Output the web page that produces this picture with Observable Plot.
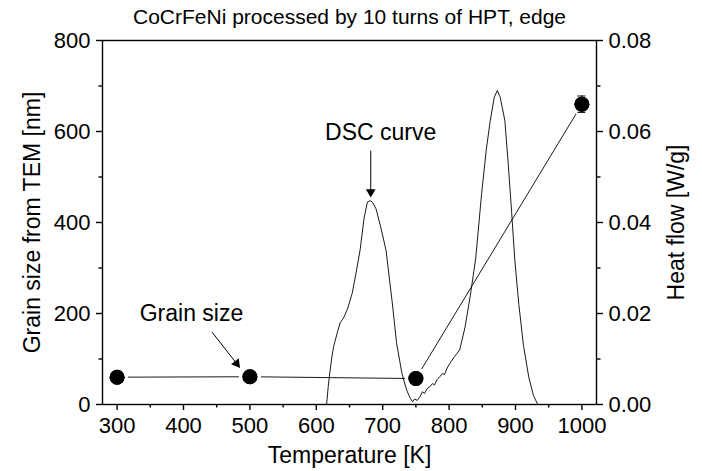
<!DOCTYPE html>
<html><head><meta charset="utf-8">
<script src="https://cdn.jsdelivr.net/npm/d3@7"></script>
<script src="https://cdn.jsdelivr.net/npm/@observablehq/plot@0.6"></script>
<style>
body{margin:0;background:#fff}
svg{font-family:"Liberation Sans",Arial,sans-serif}
</style>
</head><body><div id="chart"></div>
<script>
const title = "CoCrFeNi processed by 10 turns of HPT, edge";
const xLabel = "Temperature [K]";
const yLabel = "Grain size from TEM [nm]";
const y2Label = "Heat flow [W/g]";

// Grain size (left axis)
const temps = [300, 500, 750, 1000];
const grain = [60, 61, 57, 660];
const grainErr = [0, 0, 0, 18];

// DSC curve (right axis, W/g)
const dscT  = [615.5, 618, 620, 623, 626, 632, 636, 641, 647, 654, 660, 666, 672, 677, 681, 685, 690, 697, 705, 714, 721, 729, 736, 741, 745, 748, 752, 756, 760, 763, 767, 771, 775, 778, 782, 786, 790, 793, 797, 801, 808, 816, 824, 832, 840, 849, 856, 862, 868, 872.6, 877, 884, 889, 894, 899, 905, 912, 920, 927, 933.5];
const dscHF = [0.0, 0.004, 0.0065, 0.010, 0.0127, 0.016, 0.018, 0.019, 0.021, 0.0244, 0.029, 0.034, 0.041, 0.0445, 0.0448, 0.0444, 0.043, 0.039, 0.0339, 0.0229, 0.0134, 0.0068, 0.0032, 0.0015, 0.0006, 0.0012, 0.0009, 0.0017, 0.0028, 0.0024, 0.0035, 0.0039, 0.0046, 0.0043, 0.0055, 0.0061, 0.0068, 0.0066, 0.0080, 0.009, 0.0105, 0.012, 0.017, 0.024, 0.032, 0.0464, 0.056, 0.0624, 0.0675, 0.069, 0.0675, 0.0624, 0.053, 0.0427, 0.0317, 0.022, 0.013, 0.006, 0.002, 0.0];

// Ticks
const xTicks = [300, 400, 500, 600, 700, 800, 900, 1000];
const xMinor = [350, 450, 550, 650, 750, 850, 950];
const yTicks = [0, 200, 400, 600, 800];
const yMinor = [100, 300, 500, 700];
const hfTicks = [0, 0.02, 0.04, 0.06, 0.08];
const hfMinor = [0.01, 0.03, 0.05, 0.07];

// Annotations (text position, arrow start, arrow tip)
const noteText = ["DSC curve", "Grain size"];
const noteT = [697, 412];
const noteG = [598, 200];
const arrowT1 = [682, 443];
const arrowG1 = [558, 159];
const arrowT2 = [682, 480];
const arrowG2 = [467, 90];

const HF = 10000; // 0.08 W/g on right axis ↔ 800 nm on left axis
const W = 702, H = 471, mL = 102, mR = 106, mT = 40, mB = 67;
const xDomain = [278, 1022], yDomain = [0, 800];

const xs = Plot.scale({x: {domain: xDomain, range: [mL, W - mR]}});
const ys = Plot.scale({y: {domain: yDomain, range: [H - mB, mT]}});

const grainData = temps.map((T, i) => ({T, g: grain[i], e: grainErr[i]}));
const errData = grainData.filter(d => d.e > 0);
const dsc = dscT.map((T, i) => ({T, y: dscHF[i] * HF}));
const notes = noteText.map((text, i) => {
  const px = xs.apply(arrowT2[i]) - xs.apply(arrowT1[i]);
  const py = ys.apply(arrowG2[i]) - ys.apply(arrowG1[i]);
  return {text, T: noteT[i], g: noteG[i], T1: arrowT1[i], g1: arrowG1[i], T2: arrowT2[i], g2: arrowG2[i],
          angle: Math.atan2(px, -py) * 180 / Math.PI};
});

const fs = 22;
const chart = Plot.plot({
  width: W, height: H,
  marginLeft: mL, marginRight: mR, marginTop: mT, marginBottom: mB,
  style: {fontFamily: '"Liberation Sans", Arial, sans-serif', fontSize: fs + "px", color: "#000", background: "#fff"},
  x: {domain: xDomain},
  y: {domain: yDomain},
  marks: [
    Plot.line(grainData, {x: "T", y: "g", stroke: "#000", strokeWidth: 0.9}),
    Plot.dot(grainData, {x: "T", y: "g", r: 7.5, fill: "#000", stroke: "#fff", strokeWidth: 7, paintOrder: "stroke"}),
    Plot.dot(grainData, {x: "T", y: "g", r: 7.5, fill: "#000"}),
    Plot.line(dsc, {x: "T", y: "y", stroke: "#000", strokeWidth: 0.9}),
    Plot.ruleX(errData, {x: "T", y1: d => d.g - d.e, y2: d => d.g + d.e, stroke: "#000", strokeWidth: 1}),
    Plot.ruleY(errData, {y: d => d.g + d.e, x1: d => d.T - 6, x2: d => d.T + 6, stroke: "#000", strokeWidth: 1}),
    Plot.ruleY(errData, {y: d => d.g - d.e, x1: d => d.T - 6, x2: d => d.T + 6, stroke: "#000", strokeWidth: 1}),
    Plot.link(notes, {x1: "T1", y1: "g1", x2: "T2", y2: "g2", stroke: "#000", strokeWidth: 1}),
    Plot.dot(notes, {x: "T2", y: "g2", symbol: "triangle", r: 3.6, fill: "#000", stroke: "none", rotate: "angle"}),
    Plot.text(notes, {x: "T", y: "g", text: "text", fontSize: 23, fill: "#000"}),
    Plot.frame({stroke: "#000", strokeWidth: 1.4}),
    Plot.axisX({ticks: xTicks, tickSize: 6, tickPadding: 7, tickFormat: d => String(d), label: null, fontSize: fs, strokeWidth: 1.4}),
    Plot.axisX({ticks: xMinor, tickSize: 3.5, tickFormat: () => "", label: null, strokeWidth: 1.4}),
    Plot.axisY({anchor: "left", ticks: yTicks, tickSize: 6, tickPadding: 6, tickFormat: d => String(d), label: null, fontSize: fs, strokeWidth: 1.4}),
    Plot.axisY({anchor: "left", ticks: yMinor, tickSize: 3.5, tickFormat: () => "", label: null, strokeWidth: 1.4}),
    Plot.axisY({anchor: "right", ticks: hfTicks.map(v => v * HF), tickSize: 6, tickPadding: 6, tickFormat: d => (d / HF).toFixed(2), label: null, fontSize: fs, strokeWidth: 1.4}),
    Plot.axisY({anchor: "right", ticks: hfMinor.map(v => v * HF), tickSize: 3.5, tickFormat: () => "", label: null, strokeWidth: 1.4}),
    Plot.text([title], {frameAnchor: "top", dy: -23, lineAnchor: "middle", text: d => d, fontSize: 21, fill: "#000"}),
    Plot.text([xLabel], {frameAnchor: "bottom", dy: 51, lineAnchor: "middle", text: d => d, fontSize: 23, fill: "#000"}),
    Plot.text([yLabel], {frameAnchor: "left", dx: -70, rotate: -90, textAnchor: "middle", lineAnchor: "middle", text: d => d, fontSize: 23, fill: "#000"}),
    Plot.text([y2Label], {frameAnchor: "right", dx: 80, rotate: -90, textAnchor: "middle", lineAnchor: "middle", text: d => d, fontSize: 23, fill: "#000"})
  ]
});
document.getElementById("chart").appendChild(chart);
</script>
</body></html>
